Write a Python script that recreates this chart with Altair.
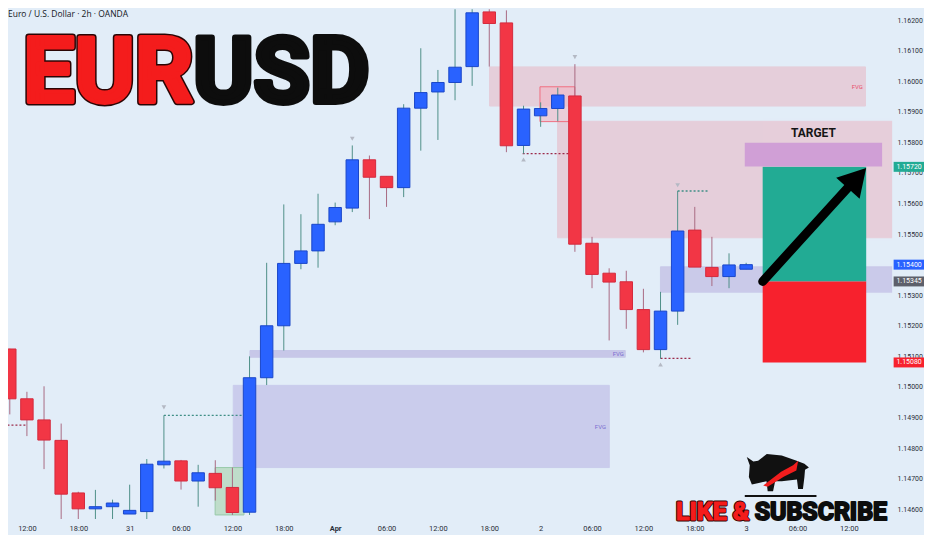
import json
import altair as alt
import pandas as pd

BG = "#e2edf8"

# ---------------- candle data (2h bars, hours from 30 Mar 12:00) ----------------
hours = [-2, 0, 2, 4, 6, 8, 10, 12, 14, 16, 18, 20, 22, 24, 26, 28, 30, 32, 34, 36, 38, 40,
         42, 44, 46, 48, 50, 52, 54, 56, 58, 60, 62, 64, 66, 68, 70, 72, 74, 76, 78, 80, 82, 84]
opens = [1.15124, 1.14961, 1.14892, 1.14825, 1.14653, 1.14601, 1.14608, 1.14584, 1.14592, 1.14745,
         1.14758, 1.14692, 1.14717, 1.14671, 1.14590, 1.15030, 1.15200, 1.15404, 1.15445, 1.15540,
         1.15585, 1.15743, 1.15689, 1.15652, 1.15912, 1.15965, 1.15996, 1.16048, 1.16227, 1.16191,
         1.15790, 1.15887, 1.15911, 1.15952, 1.15470, 1.15372, 1.15344, 1.15253, 1.15122, 1.15248,
         1.15513, 1.15391, 1.15361, 1.15385]
closes = [1.14961, 1.14892, 1.14826, 1.14649, 1.14601, 1.14608, 1.14620, 1.14596, 1.14747, 1.14757,
          1.14692, 1.14719, 1.14670, 1.14589, 1.15030, 1.15200, 1.15404, 1.15445, 1.15532, 1.15587,
          1.15743, 1.15686, 1.15652, 1.15912, 1.15963, 1.15996, 1.16046, 1.16224, 1.16189, 1.15789,
          1.15909, 1.15911, 1.15955, 1.15467, 1.15368, 1.15343, 1.15253, 1.15122, 1.15248, 1.15510,
          1.15392, 1.15361, 1.15399, 1.15400]
highs = [1.15125, 1.14984, 1.15002, 1.14880, 1.14657, 1.14663, 1.14631, 1.14680, 1.14764, 1.14907,
         1.14761, 1.14745, 1.14760, 1.14736, 1.15100, 1.15406, 1.15597, 1.15565, 1.15632, 1.15603,
         1.15790, 1.15757, 1.15689, 1.15925, 1.16108, 1.16037, 1.16238, 1.16268, 1.16280, 1.16232,
         1.15920, 1.15931, 1.15979, 1.16056, 1.15491, 1.15388, 1.15380, 1.15321, 1.15311, 1.15641,
         1.15589, 1.15491, 1.15437, 1.15406]
lows = [1.14910, 1.14839, 1.14731, 1.14552, 1.14530, 1.14558, 1.14539, 1.14584, 1.14530, 1.14733,
        1.14664, 1.14608, 1.14628, 1.14581, 1.14581, 1.15006, 1.15119, 1.15385, 1.15390, 1.15529,
        1.15572, 1.15549, 1.15589, 1.15621, 1.15773, 1.15808, 1.15938, 1.15985, 1.16048, 1.15768,
        1.15763, 1.15851, 1.15869, 1.15442, 1.15323, 1.15152, 1.15190, 1.15113, 1.15092, 1.15203,
        1.15392, 1.15330, 1.15323, 1.15385]

# ---------------- axis ticks ----------------
tick_hours = [0, 6, 12, 18, 24, 30, 36, 42, 48, 54, 60, 66, 72, 78, 84, 90, 96]
tick_labels = ["12:00", "18:00", "31", "06:00", "12:00", "18:00", "Apr", "06:00", "12:00",
               "18:00", "2", "06:00", "12:00", "18:00", "3", "06:00", "12:00"]
price_ticks = [1.146, 1.147, 1.148, 1.149, 1.150, 1.151, 1.152, 1.153, 1.154, 1.155,
               1.156, 1.157, 1.158, 1.159, 1.160, 1.161, 1.162]

# ---------------- zones ----------------
zone_x1 = [54.03, 61.98, 73.99, 26.05, 24.10, 21.98]
zone_x2 = [97.94, 101.2, 101.2, 69.88, 68.02, 25.35]
zone_y1 = [1.16047, 1.15869, 1.15393, 1.15119, 1.15005, 1.14736]
zone_y2 = [1.15919, 1.15488, 1.15310, 1.15097, 1.14736, 1.14581]
zone_fill = ["#e6cdd9", "#e6cdd9", "#c9c9e9", "#c6c6e8", "#c9cbec", "#bcdcc6"]
zone_opacity = [0.95, 0.95, 0.95, 0.95, 0.95, 0.9]
zone_stroke = ["#e6cdd9", "#e6cdd9", "#c9c9e9", "#c6c6e8", "#c9cbec", "#8fc7a0"]

# small red order-block box
ob_x1, ob_x2, ob_y1, ob_y2 = [59.92], [63.99], [1.15982], [1.15868]

# position tool
entry, target, stop = 1.15345, 1.15720, 1.15080
pos_x1, pos_x2 = 85.93, 98.02
tgt_x1, tgt_x2, tgt_y1, tgt_y2 = 83.84, 99.88, 1.15799, 1.15721

# dotted level lines
dot_x1 = [-3.2, 16.0, 57.9, 76.0, 74.0]
dot_x2 = [0.0, 25.3, 63.3, 79.7, 77.7]
dot_y = [1.14875, 1.14907, 1.15763, 1.15641, 1.15093]
dot_col = ["#9c2a4a", "#3f8f86", "#9c2a4a", "#3f8f86", "#9c2a4a"]

# small markers
tri_x = [16, 38, 64, 76, 26, 58, 74]
tri_y = [1.14933, 1.15812, 1.16079, 1.15660, 1.14558, 1.15744, 1.15073]
tri_shape = ["triangle-down"] * 4 + ["triangle-up"] * 3

# right-axis price tags
tag_price = [1.15720, 1.15400, 1.15345, 1.15080]
tag_text = ["1.15720", "1.15400", "1.15345", "1.15080"]
tag_col = ["#22ab94", "#2962ff", "#5d606b", "#f7212d"]

W, H = 888, 512
xs = alt.Scale(domain=[-2.209, 101.05], nice=False, zero=False, padding=0)
ys = alt.Scale(domain=[1.14568, 1.16236], nice=False, zero=False, padding=0)

AXF = "Roboto"
AX = alt.Axis(values=tick_hours, labelExpr=json.dumps(tick_labels) + "[round(datum.value/6)]",
              title=None, grid=False, domain=False, ticks=False, labelPadding=6, labelFontSize=7.5,
              labelColor="#2a2e39", labelFont=AXF, labelOverlap=False,
              labelFontWeight={"condition": {"test": "datum.value == 36", "value": "bold"},
                               "value": "normal"})
AY = alt.Axis(orient="right", values=price_ticks, format=".5f", title=None, grid=False,
              domain=False, ticks=False, labelPadding=5, labelFontSize=7, labelColor="#2a2e39",
              labelFont=AXF, labelOverlap=False)

candles = pd.DataFrame({"h": hours, "open": opens, "close": closes, "high": highs, "low": lows})
candles["dir"] = ["up" if c >= o else "down" for o, c in zip(opens, closes)]

zones = pd.DataFrame({"x1": zone_x1, "x2": zone_x2, "y1": zone_y1, "y2": zone_y2,
                      "fill": zone_fill, "op": zone_opacity, "st": zone_stroke})
dots = pd.DataFrame({"x1": dot_x1, "x2": dot_x2, "y": dot_y, "c": dot_col})
tris = pd.DataFrame({"x": tri_x, "y": tri_y, "s": tri_shape})
tags = pd.DataFrame({"p": tag_price, "t": tag_text, "c": tag_col})


def X(f):
    return alt.X(f, type="quantitative", scale=xs, axis=AX)


def Y(f):
    return alt.Y(f, type="quantitative", scale=ys, axis=AY)


zone_layer = alt.Chart(zones).mark_rect(clip=True, strokeWidth=1).encode(
    x=X("x1"), x2="x2", y=Y("y1"), y2="y2",
    fill=alt.Fill("fill:N", scale=None), stroke=alt.Stroke("st:N", scale=None),
    opacity=alt.Opacity("op:Q", scale=None))

ob_layer = alt.Chart(pd.DataFrame({"x1": ob_x1, "x2": ob_x2, "y1": ob_y1, "y2": ob_y2})).mark_rect(
    fill="#f0b8c4", fillOpacity=0.6, stroke="#ef6f80", strokeWidth=1).encode(
    x=X("x1"), x2="x2", y=Y("y1"), y2="y2")

pos = pd.DataFrame({"x1": [pos_x1, pos_x1], "x2": [pos_x2, pos_x2], "y1": [target, entry],
                    "y2": [entry, stop], "c": ["#22ab94", "#f7212d"]})
pos_layer = alt.Chart(pos).mark_rect().encode(
    x=X("x1"), x2="x2", y=Y("y1"), y2="y2", fill=alt.Fill("c:N", scale=None))

tgt_layer = alt.Chart(pd.DataFrame({"x1": [tgt_x1], "x2": [tgt_x2], "y1": [tgt_y1], "y2": [tgt_y2]})).mark_rect(
    fill="#d09fd6").encode(x=X("x1"), x2="x2", y=Y("y1"), y2="y2")

dot_layer = alt.Chart(dots).mark_rule(strokeDash=[2, 2], strokeWidth=1.3, clip=True).encode(
    x=X("x1"), x2="x2", y=Y("y"), color=alt.Color("c:N", scale=None))

tri_layer = alt.Chart(tris).mark_point(filled=True, size=22, color="#b4b9c4", opacity=1, clip=True).encode(
    x=X("x"), y=Y("y"), shape=alt.Shape("s:N", scale=None))

wick_layer = alt.Chart(candles).mark_rule(strokeWidth=1, clip=True).encode(
    x=X("h"), y=Y("low"), y2="high",
    color=alt.Color("dir:N", scale=alt.Scale(domain=["up", "down"], range=["#4f8f88", "#a86a82"]),
                    legend=None))

body_layer = alt.Chart(candles).mark_bar(size=12.5, strokeWidth=1, clip=True).encode(
    x=X("h"), y=Y("open"), y2="close",
    fill=alt.Fill("dir:N", scale=alt.Scale(domain=["up", "down"], range=["#2962ff", "#f23645"]),
                  legend=None),
    stroke=alt.Stroke("dir:N", scale=alt.Scale(domain=["up", "down"], range=["#1a47c8", "#d42a3d"]),
                      legend=None))

# arrow
arrow_shaft = alt.Chart(pd.DataFrame({"x1": [pos_x1], "y1": [entry], "x2": [96.3], "y2": [1.15665]})).mark_rule(
    color="black", strokeWidth=9, strokeCap="round").encode(x=X("x1"), y=Y("y1"), x2="x2", y2="y2")
arrow_head = alt.Chart(pd.DataFrame({"x": [96.95], "y": [1.15683]})).mark_point(
    shape="triangle-up", filled=True, color="black", opacity=1, size=1000, angle=42).encode(
    x=X("x"), y=Y("y"))

# annotation texts
ann = pd.DataFrame({"x": [96.98, 69.07, 66.98], "y": [1.15982, 1.15109, 1.14868],
                    "t": ["FVG", "FVG", "FVG"], "c": ["#e8506a", "#7b6fd0", "#7b6fd0"]})
ann_layer = alt.Chart(ann).mark_text(font="Roboto", baseline="middle", fontSize=6).encode(
    x=X("x"), y=Y("y"), text="t:N", color=alt.Color("c:N", scale=None))
tgt_txt = alt.Chart(pd.DataFrame({"x": [91.86], "y": [1.15832], "t": ["TARGET"]})).mark_text(
    font="Roboto", fontWeight="bold", fontSize=12, color="#151515", baseline="middle").encode(
    x=X("x"), y=Y("y"), text="t:N")

tag_box = alt.Chart(tags).mark_tick(orient="horizontal", thickness=10, size=31, opacity=1).encode(
    x=alt.value(W + 17), y=Y("p"), color=alt.Color("c:N", scale=None))
tag_txt = alt.Chart(tags).mark_text(color="white", fontSize=7, font=AXF).encode(
    x=alt.value(W + 17), y=Y("p"), text="t:N")

title_txt = alt.Chart(pd.DataFrame({"t": ["Euro / U.S. Dollar · 2h · OANDA"]})).mark_text(
    align="left", baseline="middle", fontSize=8.5, font="Open Sans", color="#131722").encode(
    x=alt.value(0), y=alt.value(4.5), text="t:N")

BIGF = "Roboto"
BS = 92
eur_o = alt.Chart(pd.DataFrame({"t": ["EUR"]})).mark_text(
    align="left", baseline="alphabetic", fontSize=BS, font=BIGF, fontWeight="bold",
    fill="#2a0505", stroke="#2a0505", strokeWidth=7, strokeJoin="round").encode(
    x=alt.value(15), y=alt.value(93), text="t:N")
eur_i = alt.Chart(pd.DataFrame({"t": ["EUR"]})).mark_text(
    align="left", baseline="alphabetic", fontSize=BS, font=BIGF, fontWeight="bold",
    fill="#f41c1c", stroke="#f41c1c", strokeWidth=4, strokeJoin="round").encode(
    x=alt.value(15), y=alt.value(93), text="t:N")
usd = alt.Chart(pd.DataFrame({"t": ["USD"]})).mark_text(
    align="left", baseline="alphabetic", fontSize=BS, font=BIGF, fontWeight="bold",
    fill="#0d0d0d", stroke="#0d0d0d", strokeWidth=6, strokeJoin="round").encode(
    x=alt.value(186), y=alt.value(93), text="t:N")

LS = 25
like_o = alt.Chart(pd.DataFrame({"t": ["LIKE &"]})).mark_text(
    align="left", baseline="alphabetic", fontSize=LS, font=BIGF, fontWeight="bold",
    fill="#2a0505", stroke="#2a0505", strokeWidth=3, strokeJoin="round").encode(
    x=alt.value(671), y=alt.value(513), text="t:N")
like_i = alt.Chart(pd.DataFrame({"t": ["LIKE &"]})).mark_text(
    align="left", baseline="alphabetic", fontSize=LS, font=BIGF, fontWeight="bold",
    fill="#f41c1c", stroke="#f41c1c", strokeWidth=1.2, strokeJoin="round").encode(
    x=alt.value(671), y=alt.value(513), text="t:N")
subs = alt.Chart(pd.DataFrame({"t": ["SUBSCRIBE"]})).mark_text(
    align="left", baseline="alphabetic", fontSize=LS, font=BIGF, fontWeight="bold",
    fill="#0d0d0d", stroke="#0d0d0d", strokeWidth=2, strokeJoin="round").encode(
    x=alt.value(750), y=alt.value(513), text="t:N")

# bull logo (decorative silhouette)
BULL = ("M -0.93 0.1 L -0.9 -0.3 L -1 -0.57 L -0.78 -0.42 L -0.62 -0.45 L -0.33 -0.67 "
        "L 0.17 -0.62 L 0.67 -0.45 L 0.93 -0.35 L 1.08 -0.22 L 0.95 -0.15 L 0.93 0.1 "
        "L 0.88 0.5 L 0.72 0.5 L 0.68 0.18 L 0.17 0.24 L -0.05 0.24 L -0.12 0.57 L -0.3 0.57 "
        "L -0.34 0.24 L -0.6 0.3 L -0.83 0.35 Z")
SWOOSH = ("M -0.45 0.38 L 0.15 -0.08 L 0.55 -0.3 L 0.72 -0.45 L 0.66 -0.12 L 0.25 0.08 "
          "L -0.3 0.42 Z")
bull = alt.Chart(pd.DataFrame({"k": ["bull"]})).mark_point(
    shape=BULL, filled=True, color="#111111", opacity=1, size=3600).encode(
    x=alt.value(772), y=alt.value(467))
swoosh = alt.Chart(pd.DataFrame({"k": ["swoosh"]})).mark_point(
    shape=SWOOSH, filled=True, color="#f21d1d", opacity=1, size=3600).encode(
    x=alt.value(772), y=alt.value(467))
ground = alt.Chart(pd.DataFrame({"k": ["ground"]})).mark_rule(color="#111111", strokeWidth=2).encode(
    x=alt.value(740), x2=alt.value(812), y=alt.value(489))

chart = alt.layer(
    zone_layer, ob_layer, pos_layer, tgt_layer, dot_layer, tri_layer, wick_layer, body_layer,
    arrow_shaft, arrow_head, ann_layer, tgt_txt, tag_box, tag_txt, title_txt,
    eur_o, eur_i, usd, like_o, like_i, subs, bull, swoosh, ground
).properties(
    width=W, height=H, background=BG,
    autosize=alt.AutoSizeParams(type="none"),
    padding={"left": 0, "top": 0, "right": 32, "bottom": 15},
).configure_view(strokeWidth=0)

chart.save("out.html", embed_options={"renderer": "svg", "actions": False})
